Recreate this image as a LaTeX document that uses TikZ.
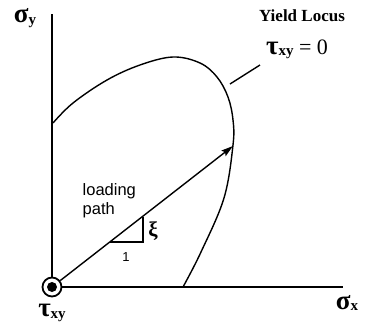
\documentclass[tikz,border=0pt]{standalone}
\usepackage{fontspec}
\setmainfont{Liberation Serif}
\setsansfont{Liberation Sans}
\usepackage{tikz}
\usetikzlibrary{positioning,arrows.meta}

\newcommand{\bigsym}[2]{{\bfseries\fontsize{27}{28}\selectfont #1}\raisebox{-0.3ex}{\fontsize{15}{16}\selectfont\bfseries #2}}

\begin{document}
\begin{tikzpicture}[x=1pt, y=-1pt, line width=1.4pt,
  axis/.style={line width=1.5pt},
  sfnote/.style={font=\sffamily\fontsize{16.5}{19}\selectfont, align=left, inner sep=0pt},
  greek/.style={inner sep=0pt}]
  \useasboundingbox (0,0) rectangle (365,330);
  % axes
  \coordinate (O) at (52,287);
  \coordinate (Ytop) at (52,14);
  \coordinate (Xend) at (343,287);
  \draw[axis] (O) -- (Ytop);
  \draw[axis] (O) -- (Xend);
  \node[greek] (sy) at (25,18) {\bigsym{σ}{y}};
  \node[greek] (sx) at (347,303) {\bigsym{σ}{x}};
  % out of plane axis
  \node[circle, draw, line width=1.8pt, fill=white, minimum size=19pt, inner sep=0pt] (Oc) at (O) {};
  \fill (O) circle (5pt);
  \node[greek] (txy) at (52,313) {\bigsym{τ}{xy}};
  % yield locus
  \draw plot[smooth, tension=0.6] coordinates {(53,123) (73,103) (107,80) (140,65) (173,57) (200,63)
    (217,77) (228,97) (233,120) (233,145) (224,198) (201,252) (183,287)};
  \node[font=\bfseries\fontsize{17}{19}\selectfont] (yl) at (302,16) {Yield Locus};
  \node[greek] (t0) at (297,49) {\bigsym{τ}{xy}{\fontsize{22}{24}\selectfont\ = 0}};
  \coordinate (lead) at (230,84);
  \draw (lead) -- (260,65);
  % loading path
  \coordinate (P) at (233,146);
  \draw[-{Stealth[length=12pt, width=7pt, inset=2pt]}] (Oc) -- (P);
  \coordinate (A) at (110,242);
  \coordinate (B) at (143,242);
  \coordinate (C) at (143,217);
  \draw[line width=1.3pt] (A) -- (B) -- (C);
  \node[font=\sffamily\fontsize{13}{15}\selectfont] (one) at (126,257) {1};
  \node[font=\bfseries\fontsize{21}{22}\selectfont] (xi) at (153,231) {ξ};
  \node[sfnote, anchor=north west] (lp) at (82,183) {loading\\path};
\end{tikzpicture}
\end{document}
